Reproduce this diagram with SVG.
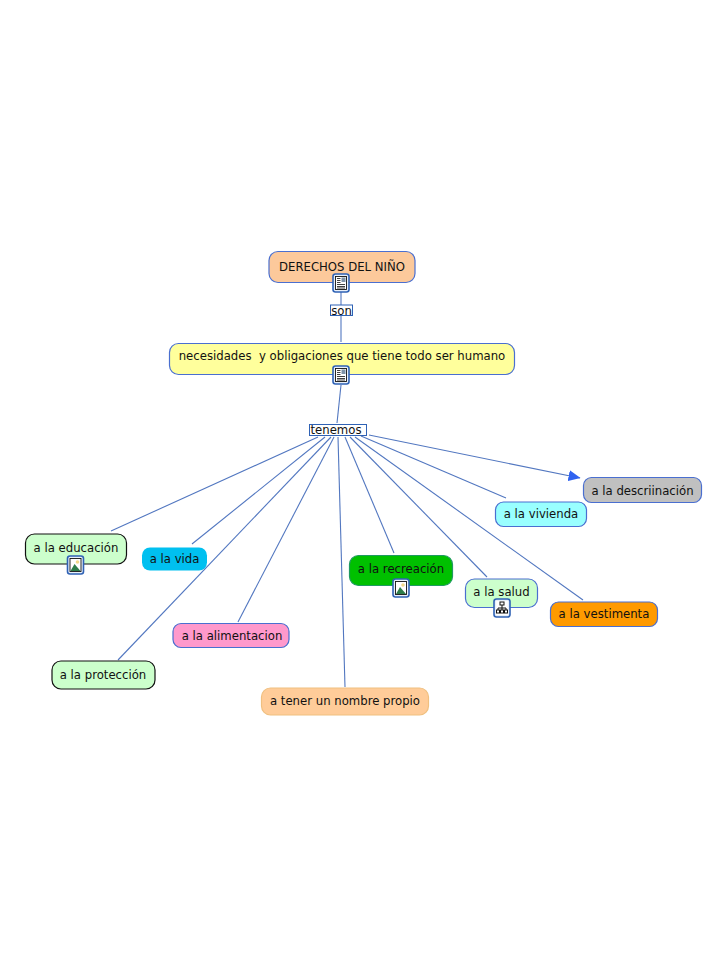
<svg xmlns="http://www.w3.org/2000/svg" width="728" height="968" viewBox="0 0 728 968">
<style>
text{font-family:"DejaVu Sans",Verdana,sans-serif;font-size:11.7px;fill:#111;text-anchor:middle;white-space:pre}
.n{stroke:#4a6fd0;stroke-width:1.2}
.k{stroke:#111;stroke-width:1.2}
.c line{stroke:#5277c0;stroke-width:1.1;fill:none}
.frame{fill:#e8f0fa;stroke:#2f62b5;stroke-width:1.6}
</style>
<defs>
<marker id="arr" markerUnits="userSpaceOnUse" markerWidth="13" markerHeight="12" refX="11.500" refY="5.500" orient="auto"><path d="M0,0L12,5.500L0,11Z" fill="#2f62f0"/></marker>
<g id="doc"><rect x="-8" y="-9" width="16" height="18" rx="2.500" class="frame"/><rect x="-5.500" y="-6.500" width="11" height="13" fill="#fff" stroke="#111" stroke-width="0.900"/><path d="M-4,-4.500H-0.500M-4,-2.500H-0.500M-4,-0.500H-0.500M-4,1.500H4M-4,3.500H4M-4,5H4" stroke="#111" stroke-width="0.800"/><rect x="0.500" y="-5.500" width="4" height="4.500" fill="#7f93a8"/></g>
<g id="img"><rect x="-8" y="-9" width="16" height="18" rx="2.500" class="frame"/><rect x="-5.500" y="-6.500" width="11" height="13" fill="#fff" stroke="#111" stroke-width="0.900"/><circle cx="2" cy="-3" r="1.800" fill="#f3d98a"/><path d="M-5,6L-1,-1L5,6Z" fill="#2e7d4a"/></g>
<g id="map"><rect x="-8" y="-9" width="16" height="18" rx="2.500" class="frame"/><rect x="-5.800" y="-7" width="11.600" height="14" fill="#fff"/><path d="M0,-3V0M-4,2V0H4V2M0,0V2" stroke="#111" fill="none"/><rect x="-2" y="-6" width="4" height="3" fill="#fff" stroke="#111"/><rect x="-5.500" y="2" width="3" height="3" fill="#fff" stroke="#111"/><rect x="-1.500" y="2" width="3" height="3" fill="#fff" stroke="#111"/><rect x="2.500" y="2" width="3" height="3" fill="#fff" stroke="#111"/></g>
</defs>
<rect width="728" height="968" fill="#fff"/>
<g id="connectors" class="c">
<line x1="341" y1="292" x2="341" y2="305"/>
<line x1="341" y1="316" x2="341" y2="342"/>
<line x1="341" y1="385" x2="337" y2="423"/>
<line x1="318" y1="437" x2="111" y2="531"/>
<line x1="325" y1="437" x2="192" y2="544"/>
<line x1="331" y1="437" x2="118" y2="660"/>
<line x1="334" y1="437" x2="238" y2="622"/>
<line x1="338" y1="437" x2="345" y2="687"/>
<line x1="345" y1="437" x2="394" y2="553"/>
<line x1="350" y1="437" x2="487" y2="577"/>
<line x1="355" y1="437" x2="583" y2="600"/>
<line x1="361" y1="436" x2="506" y2="498"/>
<line x1="369" y1="435" x2="580" y2="478" marker-end="url(#arr)"/>
</g>
<g id="n-derechos"><rect x="269" y="251.500" width="146" height="31" rx="9" fill="#fcc99b" class="n"/><text x="342" y="270.500">DERECHOS DEL NIÑO</text><use href="#doc" x="341" y="283"/></g>
<g id="l-son"><rect x="330.500" y="305" width="22" height="10.500" fill="#fff" stroke="#2f62b5"/><text x="341.500" y="314.500">son</text></g>
<g id="n-necesidades"><rect x="169.500" y="343.500" width="345" height="31" rx="9" fill="#ffff9c" class="n"/><text x="342" y="360">necesidades  y obligaciones que tiene todo ser humano</text><use href="#doc" x="341" y="375"/></g>
<g id="l-tenemos"><rect x="309.500" y="424.500" width="57" height="11" fill="#fff" stroke="#2f62b5"/><text x="336" y="434">tenemos</text></g>
<g id="n-educacion"><rect x="25.500" y="534" width="101" height="30" rx="9" fill="#ccffcc" class="k"/><text x="76" y="552">a la educación</text><use href="#img" x="75.500" y="565"/></g>
<g id="n-vida"><rect x="142" y="547.500" width="65" height="23" rx="8" fill="#00c0f0"/><text x="174.500" y="562.500">a la vida</text></g>
<g id="n-recreacion"><rect x="349.500" y="555.500" width="103" height="30" rx="9" fill="#00c000" stroke="#1f9a60" stroke-width="1.200"/><text x="401" y="573">a la recreación</text><use href="#img" x="401" y="588"/></g>
<g id="n-salud"><rect x="465.500" y="579" width="72" height="28.500" rx="9" fill="#ccffcc" class="n"/><text x="501.500" y="595.500">a la salud</text><use href="#map" x="502" y="608"/></g>
<g id="n-vivienda"><rect x="495.500" y="502" width="91" height="24.500" rx="8" fill="#99ffff" class="n"/><text x="541" y="518">a la vivienda</text></g>
<g id="n-descriinacion"><rect x="583.500" y="477.500" width="118" height="25" rx="8" fill="#c0c0c0" class="n"/><text x="642.500" y="494.500">a la descriinación</text></g>
<g id="n-vestimenta"><rect x="550.500" y="602" width="107" height="24.500" rx="8" fill="#ff9a00" class="n"/><text x="604" y="618">a la vestimenta</text></g>
<g id="n-alimentacion"><rect x="173" y="623.500" width="116" height="24" rx="8" fill="#ff99cc" class="n"/><text x="232" y="639.500">a la alimentacion</text></g>
<g id="n-proteccion"><rect x="52" y="661" width="103" height="28" rx="9" fill="#ccffcc" class="k"/><text x="103" y="679">a la protección</text></g>
<g id="n-nombre"><rect x="261.500" y="688" width="167" height="27" rx="9" fill="#ffcc99" stroke="#f0c080" stroke-width="1.200"/><text x="345" y="705">a tener un nombre propio</text></g>
</svg>
